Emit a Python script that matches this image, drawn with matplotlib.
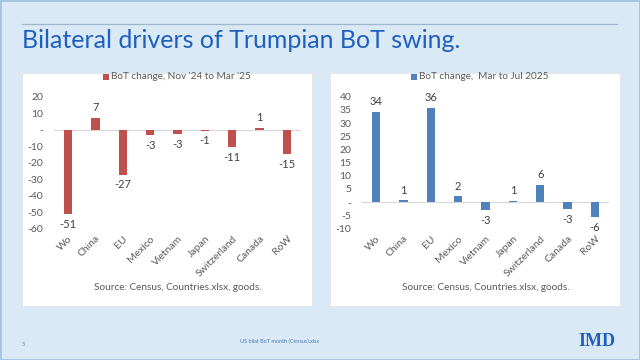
import matplotlib
matplotlib.use("Agg")
import matplotlib.pyplot as plt
from matplotlib.patches import Rectangle
from matplotlib.lines import Line2D
import numpy as np

categories = ["Wo", "China", "EU", "Mexico", "Vietnam", "Japan", "Switzerland", "Canada", "RoW"]
bot_nov24_mar25 = [-51.2, 7.3, -27.3, -3.2, -2.6, -0.6, -10.6, 1.2, -14.8]
bot_mar_jul25 = [34.3, 0.7, 35.7, 2.2, -3.1, 0.6, 6.5, -2.6, -5.8]
legend_left = "BoT change, Nov '24 to Mar '25"
legend_right = "BoT change,  Mar to Jul 2025"
ticks_left = [20, 10, 0, -10, -20, -30, -40, -50, -60]
ticks_right = [40, 35, 30, 25, 20, 15, 10, 5, 0, -5, -10]
source = "Source: Census, Countries.xlsx, goods."
title = "Bilateral drivers of Trumpian BoT swing."

W, H = 640, 360
BG = "#dae9f6"
BLUE_TXT = "#1f5fbf"
GREY = "#595959"
plt.rcParams["font.family"] = ["Lato", "DejaVu Sans"]

fig = plt.figure(figsize=(6.4, 3.6), dpi=100)
fig.patch.set_facecolor(BG)


def fx(px):
    return px / W


def fy(py):
    return 1 - py / H


# outer border
fig.add_artist(Rectangle((0.5 / W, 0.5 / H), 1 - 1 / W, 1 - 1 / H, transform=fig.transFigure,
                         fill=False, edgecolor="#9cc0e0", lw=1.2))
# rule above title
fig.add_artist(Line2D([fx(22), fx(617)], [fy(23.5), fy(23.5)], transform=fig.transFigure,
                      color="#9fb6cf", lw=0.9))

t = fig.text(fx(22), fy(48), title, color=BLUE_TXT, fontsize=20, ha="left", va="baseline")
fig.canvas.draw()
bb = t.get_window_extent()
t.set_fontsize(20 * 441 / bb.width)

# white panels
for x0, x1 in [(22, 312), (330, 620)]:
    fig.add_artist(Rectangle((fx(x0), fy(306)), fx(x1 - x0), (306 - 73) / H,
                             transform=fig.transFigure, facecolor="white",
                             edgecolor="#e4e4e4", lw=0.6, zorder=0))


def panel(ax_left, ax_right, vals, color, ylim, ticks, legend, cx):
    ax = fig.add_axes([fx(ax_left), fy(228.5), fx(ax_right - ax_left), (228.5 - 96.7) / H])
    ax.set_facecolor("none")
    x = np.arange(len(categories))
    ax.bar(x, vals, width=0.31, color=color, zorder=2)
    ax.axhline(0, color="#d9d9d9", lw=0.9, zorder=1)
    ax.set_xlim(-0.5, len(categories) - 0.5)
    ax.set_ylim(*ylim)
    ax.set_yticks(ticks)
    ax.set_yticklabels([str(v) if v != 0 else "-" for v in ticks])
    ax.set_xticks(x)
    ax.set_xticklabels(categories, rotation=45, ha="right", rotation_mode="anchor")
    ax.tick_params(axis="both", length=0, labelsize=7.5, colors=GREY, pad=8)
    ax.tick_params(axis="x", pad=4)
    for s in ax.spines.values():
        s.set_visible(False)
    span = ylim[1] - ylim[0]
    for xi, v in zip(x, vals):
        lbl = "%.0f" % v
        if v >= 0:
            ax.text(xi, v + span * 0.035, lbl, ha="center", va="bottom", fontsize=8, color="#404040")
        else:
            ax.text(xi, v - span * 0.035, lbl, ha="center", va="top", fontsize=8, color="#404040")
    # legend
    fig.add_artist(Rectangle((fx(cx - 66), fy(80)), fx(6), 6 / H, transform=fig.transFigure,
                             facecolor=color, edgecolor="none"))
    fig.text(fx(cx - 58), fy(76.5), legend, fontsize=7.2, color=GREY, ha="left", va="center")
    fig.text(fx(cx + 9), fy(287.5), source, fontsize=7.2, color=GREY, ha="center", va="center")
    return ax


panel(54.3, 300.7, bot_nov24_mar25, "#c0504d", (-60, 20), ticks_left, legend_left, 169)
panel(362.3, 608.7, bot_mar_jul25, "#4f81bd", (-10, 40), ticks_right, legend_right, 477)

# footer
fig.text(fx(23), fy(345), "5", fontsize=4.2, color="#6b8fb5", ha="center", va="center")
fig.text(fx(280), fy(341), "US bilat BoT month (Census).xlsx", fontsize=4.0, color="#4a78b8",
         ha="center", va="center")
fig.text(fx(597), fy(341), "IMD", fontsize=13, color=BLUE_TXT, ha="center", va="center",
         family=["Liberation Serif", "DejaVu Serif"], weight="bold")

fig.savefig("out.png", dpi=100, facecolor=BG)
